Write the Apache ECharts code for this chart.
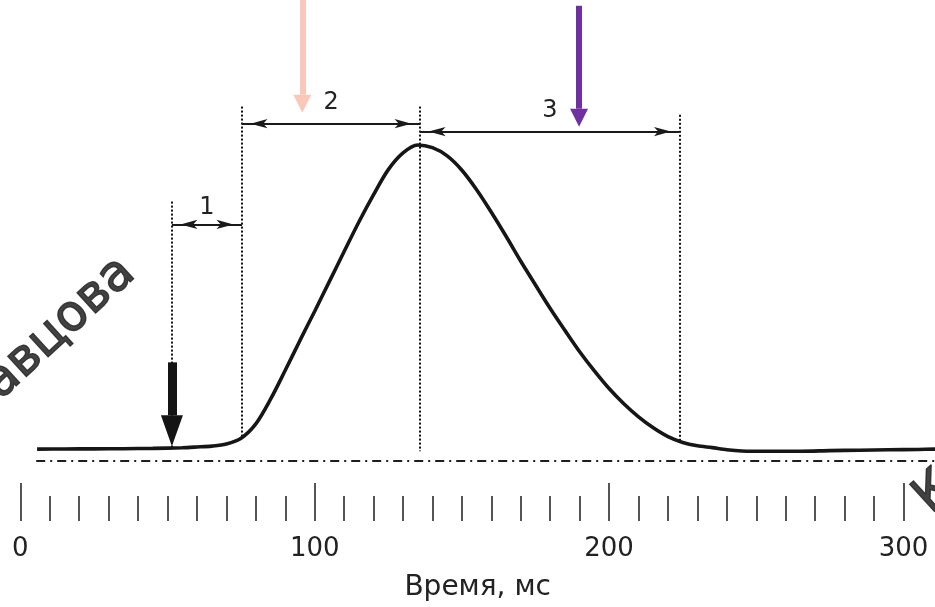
<!DOCTYPE html>
<html>
<head>
<meta charset="utf-8">
<script src="https://cdn.jsdelivr.net/npm/echarts@6/dist/echarts.min.js"></script>
<style>
html,body{margin:0;padding:0;background:#fff;}
#chart{width:935px;height:607px;}
</style>
</head>
<body>
<div id="chart"></div>
<script>
// ---- data (time in ms, force in % of peak) ----
const timeMs = [5.7, 15, 25, 35, 45, 55, 60, 65, 70, 75, 80, 85, 90, 95, 100, 105, 110, 115, 120, 125, 130, 135, 140, 145, 150, 155, 160, 165, 170, 175, 180, 185, 190, 195, 200, 205, 210, 215, 220, 225, 230, 235, 240, 245, 255, 265, 275, 285, 295, 305, 310.7];
const force  = [0, 0.05, 0.1, 0.15, 0.25, 0.45, 0.7, 1.0, 1.7, 3.6, 8.3, 16.4, 25.9, 35.7, 45.3, 55.1, 64.9, 74.6, 83.6, 91.8, 97.3, 99.9, 99.0, 96.3, 91.6, 85.2, 77.8, 69.9, 61.7, 53.9, 46.2, 39.0, 32.0, 25.7, 19.9, 14.9, 10.6, 7.0, 4.1, 2.2, 1.1, 0.5, -0.2, -0.6, -0.7, -0.7, -0.5, -0.35, -0.2, -0.1, 0];
const majorTicks = [0, 100, 200, 300];
const tickLabels = [0, 100, 200, 300];
const minorTicks = [10,20,30,40,50,60,70,80,90,110,120,130,140,150,160,170,180,190,210,220,230,240,250,260,270,280,290];
const axisTitle = 'Время, мс';
// phase boundaries (ms)
const phaseBounds = [51.5, 75.3, 135.8, 223.9];
const phaseTops = [81.3, 112.5, 112.5, 109.8];
const phaseBottoms = [0.3, 3.3, -0.7, 2.6];
const spanLabels = ['1', '2', '3'];
const spanLevels = [73.8, 106.9, 104.3];
const spanLabelGaps = [5, 9, 9];
// stimulus / event arrows
const blackArrow = {t: 51.5, from: 28.5, to: 11.1};
const pinkArrow = {t: 95.8, from: 147.5, to: 116.4};
const purpleArrow = {t: 189.8, from: 145.6, to: 111.8};
const baselineLevel = -3.93;
const baselineStart = 5.4;
const xMax = 310.7;

const FONT = '"DejaVu Sans", "Liberation Sans", sans-serif';
const chart = echarts.init(document.getElementById('chart'));

function arrowSeries(a, color, shaftW, headW, headH) {
  return {
    type: 'line', data: [], silent: true,
    markLine: {
      silent: true, animation: false,
      symbol: ['none', 'triangle'],
      symbolSize: [headW, headH],
      symbolOffset: [[0, 0], [0, -headH / 2]],
      label: {show: false},
      lineStyle: {color: color, width: shaftW, type: 'solid', cap: 'butt'},
      emphasis: {disabled: true},
      data: [[{coord: [a.t, a.from]}, {coord: [a.t, a.to]}]]
    }
  };
}

const option = {
  animation: false,
  backgroundColor: '#ffffff',
  grid: {left: 20.3, right: 0, top: 0, bottom: 85, containLabel: false},
  xAxis: [
    {
      type: 'value', min: 0, max: xMax, position: 'bottom',
      axisLine: {show: false, onZero: false},
      splitLine: {show: false},
      axisTick: {show: true, inside: true, length: 38, customValues: majorTicks,
        lineStyle: {color: '#2a2a2a', width: 1.6}},
      axisLabel: {show: true, customValues: tickLabels, margin: 15,
        fontSize: 26, fontFamily: FONT, color: '#222'},
      name: axisTitle, nameLocation: 'middle', nameGap: 53,
      nameTextStyle: {fontSize: 28, fontFamily: FONT, color: '#222'}
    },
    {
      type: 'value', min: 0, max: xMax, position: 'bottom', gridIndex: 0,
      axisLine: {show: false, onZero: false},
      splitLine: {show: false},
      axisTick: {show: true, inside: true, length: 25, customValues: minorTicks,
        lineStyle: {color: '#2a2a2a', width: 1.6}},
      axisLabel: {show: false}
    }
  ],
  yAxis: {type: 'value', min: -23.6, max: 147.5, show: false, splitLine: {show: false}},
  graphic: [
    {type: 'text', x: 128, y: 266, rotation: 0.74, z: -10, silent: true,
      style: {text: 'Кравцова', font: '50px ' + FONT, fill: 'rgba(45,45,45,0.9)',
        stroke: 'rgba(45,45,45,0.9)', lineWidth: 1.5,
        align: 'right', verticalAlign: 'middle', shadowBlur: 4, shadowColor: 'rgba(0,0,0,0.35)'}},
    {type: 'text', x: 922, y: 505, rotation: 0.74, z: -10, silent: true,
      style: {text: 'Кравцова', font: '50px ' + FONT, fill: 'rgba(45,45,45,0.9)',
        stroke: 'rgba(45,45,45,0.9)', lineWidth: 1.5,
        align: 'left', verticalAlign: 'middle', shadowBlur: 4, shadowColor: 'rgba(0,0,0,0.35)'}}
  ],
  series: [
    {
      name: 'curve', type: 'line', silent: true,
      data: timeMs.map((t, i) => [t, force[i]]),
      smooth: 0.3,
      showSymbol: false, symbol: 'none',
      lineStyle: {color: '#161616', width: 3.6},
      z: 5
    },
    {
      name: 'baseline', type: 'line', data: [], silent: true,
      markLine: {
        silent: true, animation: false, symbol: ['none', 'none'], label: {show: false},
        lineStyle: {color: '#1e1e1e', width: 2, type: [9, 5, 2, 5]},
        emphasis: {disabled: true},
        data: [[{coord: [baselineStart, baselineLevel]}, {coord: [xMax, baselineLevel]}]]
      }
    },
    {
      name: 'phases', type: 'line', data: [], silent: true,
      markLine: {
        silent: true, animation: false, symbol: ['none', 'none'], label: {show: false},
        lineStyle: {color: '#111', width: 2, type: [2, 2]},
        emphasis: {disabled: true},
        data: phaseBounds.map((t, i) => [{coord: [t, phaseTops[i]]}, {coord: [t, phaseBottoms[i]]}])
      }
    },
    {
      name: 'spans', type: 'line', data: [], silent: true,
      markLine: {
        silent: true, animation: false,
        symbol: ['arrow', 'arrow'], symbolSize: [7, 17],
        symbolOffset: [[0, 8.5], [0, 8.5]],
        lineStyle: {color: '#1a1a1a', width: 2.2, type: 'solid'},
        emphasis: {disabled: true},
        data: spanLabels.map((lab, i) => [
          {coord: [phaseBounds[i], spanLevels[i]],
            label: {show: true, formatter: lab, position: 'middle', distance: spanLabelGaps[i],
              fontSize: 24, fontFamily: FONT, color: '#222'}},
          {coord: [phaseBounds[i + 1], spanLevels[i]]}
        ])
      }
    },
    arrowSeries(blackArrow, '#141414', 9, 22, 31),
    arrowSeries(pinkArrow, '#f9c8b9', 6, 18, 18),
    arrowSeries(purpleArrow, '#7030a0', 6, 18, 18)
  ]
};
chart.setOption(option);
</script>
</body>
</html>
